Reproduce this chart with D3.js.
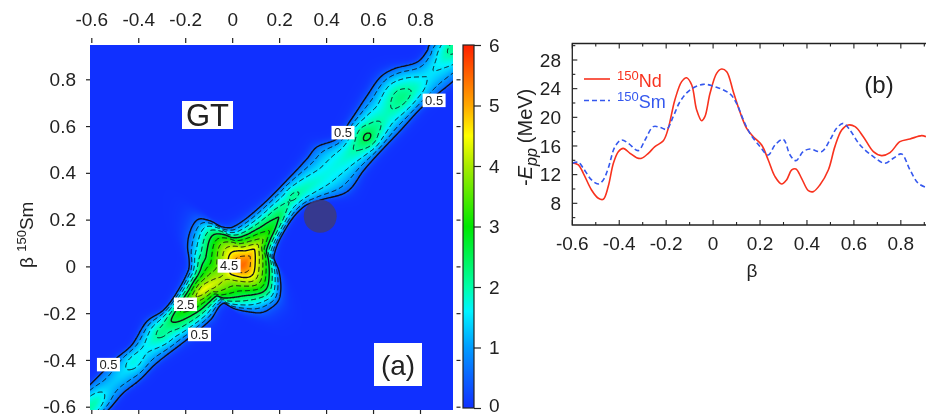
<!DOCTYPE html>
<html>
<head>
<meta charset="utf-8">
<script src="https://cdn.jsdelivr.net/npm/d3@7"></script>
<style>
html,body{margin:0;padding:0;background:#fff;overflow:hidden;}
svg{display:block;filter:blur(0.45px);}
text{font-family:"Liberation Sans",Arial,sans-serif;fill:#222;}
</style>
</head>
<body>
<div id="chart"></div>
<script>
// panel (a): the ridge, u=(bx+by)/2 along the diagonal, v=(by-bx)/2 across it
const upperU = [-.7,-.549,-.442,-.382,-.300,-.240,-.183,-.101,-.078,-.053,-.021,.016,.035,.052,.062,.087,.187,.315,.390,.436,.496,.564,.653,.720,.767,.831,.877,.891,1.0];
const upperV = [.05,.050,.050,.046,.064,.053,.060,.085,.105,.137,.161,.174,.168,.140,.107,.082,.068,.068,.071,.075,.050,.060,.078,.089,.078,.043,.046,.053,.06];
const lowerU = [-.7,-.563,-.503,-.439,-.368,-.254,-.161,-.097,-.087,-.065,-.039,-.009,.027,.060,.091,.109,.201,.280,.329,.404,.486,.546,.649,.752,.870,1.0];
const lowerV = [-.043,-.043,-.039,-.046,-.046,-.060,-.068,-.060,-.092,-.128,-.159,-.171,-.171,-.147,-.107,-.068,-.032,-.025,-.046,-.085,-.075,-.071,-.068,-.064,-.075,-.075];
const ridgeU = [-.7,-.62,-.58,-.52,-.46,-.417,-.36,-.30,-.27,-.24,-.20,-.16,-.112,-.07,-.04,-.02,.01,.03,.06,.084,.11,.14,.16,.19,.21,.23,.26,.28,.31,.40,.47,.52,.564,.60,.65,.72,.77,.82,.87,.93,1.0];
const ridgeAmp = [2.0,2.0,1.9,1.3,1.4,1.7,1.6,2.1,2.2,2.6,3.1,3.7,4.4,4.2,4.1,4.5,5.3,5.45,5.0,4.5,3.8,3.2,2.95,2.6,2.45,2.2,2.0,2.1,1.95,1.7,1.8,2.1,2.6,2.2,1.9,2.2,1.9,1.5,1.6,2.1,2.1];
const centerU = [-.7,-.3,-.112,-.03,.02,.09,.16,.28,.4,.564,.717,.82,.93,1.0];
const centerV = [0,.01,.011,-.01,-.021,-.01,-.003,.018,-.004,-.011,0,-.01,-.004,-.004];

const contourLevels = [0.5,1,1.5,2,2.5,3,3.5,4,4.5,5];
const solidLevels = [0.5,2.5,4.5];
const colorValues = [0,0.5,1,1.6,2,3,4,4.5,5,6];
const colorStops = ["#1030ff","#0a62ff","#009cff","#00f4ff","#00ffa8","#00e800","#a8ea00","#ffff00","#ffa800","#ff2000"];
const heatTicks = [-0.6,-0.4,-0.2,0,0.2,0.4,0.6,0.8];
const colorTicks = [0,1,2,3,4,5,6];
const contourLabels = ["0.5","0.5","0.5","0.5","2.5","4.5"];
const labelBx = [-.527,-.139,.472,.860,-.199,-.013];
const labelBy = [-.419,-.290,.573,.711,-.161,.003];

// panel (b)
const ndBeta = [-.6,-.574,-.553,-.518,-.489,-.468,-.447,-.425,-.404,-.383,-.354,-.326,-.305,-.276,-.248,-.212,-.191,-.163,-.134,-.113,-.091,-.070,-.049,-.035,-.013,.015,.036,.058,.086,.114,.143,.171,.207,.235,.264,.292,.313,.335,.353,.377,.406,.427,.455,.491,.519,.548,.576,.605,.640,.683,.718,.754,.796,.839,.889,.907];
const ndEpp = [13.67,13.35,12.19,9.86,8.70,8.56,10.33,13.58,15.21,15.67,14.98,14.37,14.28,14.98,15.91,16.74,18.47,22.42,24.98,25.53,24.51,21.02,19.53,20.09,23.35,26.14,26.74,26.37,23.58,20.79,18.47,17.30,16.14,14.05,11.72,10.70,11.26,12.65,12.79,11.49,9.77,9.63,10.56,12.65,15.91,18.23,18.93,18.70,17.30,15.21,14.65,15.07,16.60,16.98,17.44,17.30];
const smBeta = [-.6,-.574,-.553,-.518,-.489,-.468,-.447,-.418,-.390,-.361,-.319,-.290,-.255,-.226,-.198,-.170,-.141,-.099,-.042,.015,.072,.100,.129,.157,.200,.235,.264,.299,.328,.353,.384,.413,.462,.498,.526,.555,.583,.626,.683,.732,.768,.803,.839,.874,.907];
const smEpp = [13.58,13.72,12.88,11.26,10.70,11.26,12.88,15.91,16.84,16.37,15.35,16.84,18.70,18.60,18.33,20.09,22.19,23.81,24.60,24.19,23.26,21.95,19.63,17.77,15.91,14.74,16.14,16.93,14.74,13.95,15.21,15.58,15.21,16.84,18.47,19.16,18.23,16.14,14.51,13.58,14.28,14.88,12.65,10.79,10.23];
const bXTicks = [-0.6,-0.5,-0.4,-0.3,-0.2,-0.1,0,0.1,0.2,0.3,0.4,0.5,0.6,0.7,0.8,0.9];
const bYTicks = [6,8,10,12,14,16,18,20,22,24,26,28,30];

const fmt = d => d === 0 ? "0" : String(d);
const color_red = "#f8321e";
const color_blue = "#3558ee";

var svg = d3.select("#chart").append("svg").attr("width",926).attr("height",416);

// smooth lookup in a station table
function lookup(xs, ys, x) {
    var i = d3.bisectRight(xs, x) - 1;
    i = Math.max(0, Math.min(xs.length - 2, i));
    var h = xs[i+1] - xs[i], t = Math.max(0, Math.min(1, (x - xs[i]) / h));
    var m0 = i > 0 ? (ys[i+1] - ys[i-1]) / (xs[i+1] - xs[i-1]) : 0;
    var m1 = i < xs.length - 2 ? (ys[i+2] - ys[i]) / (xs[i+2] - xs[i]) : 0;
    var t2 = t*t, t3 = t2*t;
    return (2*t3-3*t2+1)*ys[i] + (t3-2*t2+t)*h*m0 + (-2*t3+3*t2)*ys[i+1] + (t3-t2)*h*m1;
}
function gt(bx, by) {
    var u = (bx+by)/2, v = (by-bx)/2;
    var a = lookup(ridgeU, ridgeAmp, u), c = lookup(centerU, centerV, u);
    var e = v > c ? lookup(upperU, upperV, u) : lookup(lowerU, lowerV, u);
    var t = (v-c)/(e-c);
    if(t > 1) return 0.5*Math.exp(-(t-1)*7); // narrow glow outside the 0.5 line
    var p = 1.7-0.45*Math.max(0,Math.min(1,(a-2)/2)); // the tall part is sharper than the flat ridge
    return a-(a-0.5)*Math.pow(t,p);
}

// ---- panel (a) ----
var left = 90, right = 453, top_ = 45, bottom = 410;
var x = d3.scaleLinear().domain([-0.6,0.8]).range([91.3,420]);
var y = d3.scaleLinear().domain([-0.6,0.8]).range([406.7,79.3]);
var colorScale = d3.scaleLinear().domain(colorValues).range(colorStops).clamp(true);

var pad = 3;
var gw = right-left+2*pad, gh = bottom-top_+2*pad;
var values = new Float64Array(gw*gh);
var canvas = document.createElement("canvas");
canvas.width = gw; canvas.height = gh;
var ctx = canvas.getContext("2d");
var img = ctx.createImageData(gw,gh);
for(var j = 0; j < gh; j++){
    for(var i = 0; i < gw; i++){
        var val = gt(x.invert(left-pad+i+0.5), y.invert(top_-pad+j+0.5));
        values[j*gw+i] = val;
        var col = d3.rgb(colorScale(val));
        var k = (j*gw+i)*4;
        img.data[k] = col.r; img.data[k+1] = col.g; img.data[k+2] = col.b; img.data[k+3] = 255;
    }
}
ctx.putImageData(img,0,0);

var defs = svg.append("defs");
defs.append("clipPath").attr("id","heatClip").append("rect")
    .attr("x",left).attr("y",top_).attr("width",right-left).attr("height",bottom-top_);
defs.append("clipPath").attr("id","bClip").append("rect")
    .attr("x",572).attr("y",43).attr("width",360).attr("height",182);

var heat = svg.append("g").attr("clip-path","url(#heatClip)");
heat.append("image")
    .attr("x",left-pad).attr("y",top_-pad).attr("width",gw).attr("height",gh)
    .attr("href",canvas.toDataURL());

var contours = d3.contours().size([gw,gh]).thresholds(contourLevels)(Array.from(values));
heat.append("g")
    .attr("transform",`translate(${left-pad},${top_-pad})`)
    .selectAll("path")
    .data(contours)
    .enter()
    .append("path")
    .attr("d",d3.geoPath())
    .attr("fill","none")
    .attr("stroke","#101018")
    .attr("stroke-width",d => solidLevels.includes(d.value) ? 1.4 : 1)
    .attr("stroke-dasharray",d => solidLevels.includes(d.value) ? null : "5,3");

// the dark marker on the ridge
svg.append("circle")
    .attr("cx",x(0.375)).attr("cy",y(0.214)).attr("r",16.5)
    .attr("fill","#3b3a80").attr("opacity",0.88);

// contour labels
contourLabels.forEach(function(t,i){
    var cx = x(labelBx[i]), cy = y(labelBy[i]);
    svg.append("rect").attr("x",cx-11.5).attr("y",cy-6.5).attr("width",23).attr("height",13.5).attr("fill","#fff");
    svg.append("text").attr("x",cx).attr("y",cy+4.6).attr("text-anchor","middle").attr("font-size",13).text(t);
});

// GT and (a) boxes
svg.append("rect").attr("x",182).attr("y",101).attr("width",51).attr("height",28).attr("fill","#fff");
svg.append("text").attr("x",207.5).attr("y",126).attr("text-anchor","middle").attr("font-size",31).text("GT");
svg.append("rect").attr("x",374).attr("y",343).attr("width",48).attr("height",43).attr("fill","#fff");
svg.append("text").attr("x",398).attr("y",375).attr("text-anchor","middle").attr("font-size",28).text("(a)");

function styleAxis(g, size){
    g.select(".domain").remove();
    g.selectAll("line").attr("stroke","#222").attr("stroke-width",1.2);
    g.selectAll("text").attr("font-size",size).attr("fill","#222");
}

svg.append("g").attr("transform","translate(0,43)")
    .call(d3.axisTop(x).tickValues(heatTicks).tickFormat(fmt).tickSize(5).tickPadding(12))
    .call(styleAxis,19);
svg.append("g").attr("transform","translate(0,410)")
    .call(d3.axisBottom(x).tickValues(heatTicks).tickFormat("").tickSize(4))
    .call(styleAxis,19);
svg.append("g").attr("transform","translate(90,0)")
    .call(d3.axisLeft(y).tickValues(heatTicks).tickFormat(fmt).tickSize(4).tickPadding(10))
    .call(styleAxis,19);
svg.append("g").attr("transform","translate(456.5,0)")
    .call(d3.axisRight(y).tickValues(heatTicks).tickFormat("").tickSize(4))
    .call(styleAxis,19);

var yLabel = svg.append("text").attr("transform","translate(33,268) rotate(-90)").attr("font-size",19);
yLabel.append("tspan").text("β ");
yLabel.append("tspan").attr("font-size",13).attr("dy",-7).text("150");
yLabel.append("tspan").attr("dy",7).text("Sm");

// colour bar
var cbar = d3.scaleLinear().domain([0,6]).range([408,45]);
var grad = defs.append("linearGradient").attr("id","cbarGrad")
    .attr("x1",0).attr("x2",0).attr("y1",1).attr("y2",0);
colorValues.forEach(function(v,i){
    grad.append("stop").attr("offset",v/6).attr("stop-color",colorStops[i]);
});
svg.append("rect").attr("x",463).attr("y",cbar(6)).attr("width",11).attr("height",cbar(0)-cbar(6))
    .attr("fill","url(#cbarGrad)").attr("stroke","#222").attr("stroke-width",1.2);
svg.append("g").attr("transform","translate(474,0)")
    .call(d3.axisRight(cbar).tickValues(colorTicks).tickFormat(fmt).tickSize(7).tickPadding(8))
    .call(styleAxis,19)
    .selectAll("text").filter(d => d === 0).attr("dy","0.2em"); // keep the 0 inside the picture

// ---- panel (b) ----
var xb = d3.scaleLinear().domain([-0.6,0.9]).range([572.3,924.3]);
var yb = d3.scaleLinear().domain([8,28]).range([203.3,60]);
var line = d3.line().x(d => xb(d[0])).y(d => yb(d[1])).curve(d3.curveCatmullRom);

var plot = svg.append("g").attr("clip-path","url(#bClip)");
plot.append("path").attr("d",line(d3.zip(ndBeta,ndEpp)))
    .attr("fill","none").attr("stroke",color_red).attr("stroke-width",1.6);
plot.append("path").attr("d",line(d3.zip(smBeta,smEpp)))
    .attr("fill","none").attr("stroke",color_blue).attr("stroke-width",1.6).attr("stroke-dasharray","5,3");

// frame runs off the right edge of the picture
svg.append("path").attr("d","M930,43.5H572.3V225H930")
    .attr("fill","none").attr("stroke","#222").attr("stroke-width",1.3);

bXTicks.forEach(function(d){
    var major = Math.round(d*10) % 2 === 0;
    var l = major ? 5 : 3;
    svg.append("line").attr("x1",xb(d)).attr("x2",xb(d)).attr("y1",225).attr("y2",225-l).attr("stroke","#222").attr("stroke-width",1.1);
    svg.append("line").attr("x1",xb(d)).attr("x2",xb(d)).attr("y1",43.5).attr("y2",43.5+l).attr("stroke","#222").attr("stroke-width",1.1);
    if(major){
        svg.append("text").attr("x",xb(d)).attr("y",250).attr("text-anchor","middle").attr("font-size",19).text(fmt(d));
    }
});
bYTicks.forEach(function(d){
    var major = d % 4 === 0;
    var l = major ? 5 : 3;
    svg.append("line").attr("x1",572.3).attr("x2",572.3+l).attr("y1",yb(d)).attr("y2",yb(d)).attr("stroke","#222").attr("stroke-width",1.1);
    if(major && d >= 8 && d <= 28){
        svg.append("text").attr("x",561).attr("y",yb(d)+6.8).attr("text-anchor","end").attr("font-size",19).text(d);
    }
});

svg.append("text").attr("x",752).attr("y",277).attr("text-anchor","middle").attr("font-size",19).text("β");

var eLabel = svg.append("text").attr("transform","translate(532,186) rotate(-90)").attr("font-size",20);
eLabel.append("tspan").text("-");
eLabel.append("tspan").attr("font-style","italic").text("E");
eLabel.append("tspan").attr("font-style","italic").attr("font-size",16).attr("dy",5).text("pp");
eLabel.append("tspan").attr("dy",-5).attr("dx",5).text("(MeV)");

// legend
svg.append("line").attr("x1",584).attr("x2",610).attr("y1",79).attr("y2",79).attr("stroke",color_red).attr("stroke-width",1.6);
svg.append("line").attr("x1",584).attr("x2",610).attr("y1",100.5).attr("y2",100.5).attr("stroke",color_blue).attr("stroke-width",1.6).attr("stroke-dasharray","5,3");
var ndText = svg.append("text").attr("x",617).attr("y",87).attr("font-size",18).style("fill",color_red);
ndText.append("tspan").attr("font-size",13).attr("dy",-7).text("150");
ndText.append("tspan").attr("dy",7).text("Nd");
var smText = svg.append("text").attr("x",617).attr("y",108).attr("font-size",18).style("fill",color_blue);
smText.append("tspan").attr("font-size",13).attr("dy",-7).text("150");
smText.append("tspan").attr("dy",7).text("Sm");

svg.append("text").attr("x",879).attr("y",93).attr("text-anchor","middle").attr("font-size",24).text("(b)");
</script>
</body>
</html>
